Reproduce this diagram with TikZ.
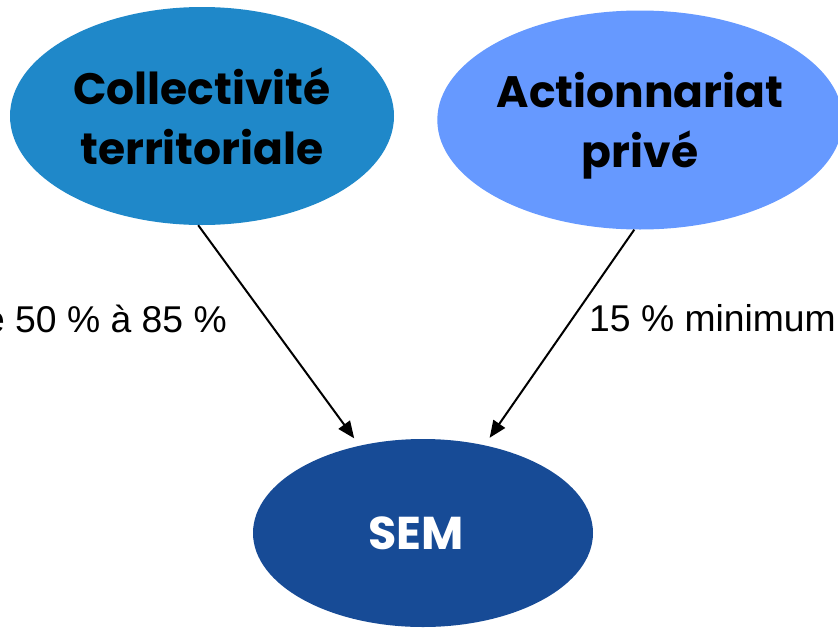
\documentclass[tikz,border=0pt]{standalone}
\usepackage{fontspec}
\setmainfont{Liberation Sans}
\newfontfamily\popp{Poppins}
\usetikzlibrary{arrows.meta,shapes.geometric}
\definecolor{cteal}{RGB}{31,136,201}
\definecolor{clight}{RGB}{102,153,255}
\definecolor{cdark}{RGB}{23,75,150}
\tikzset{
  blob/.style={ellipse, inner sep=0pt, align=center, text depth=0pt, font=\popp\bfseries\fontsize{44}{60}\selectfont, text=black},
  arr/.style={draw=black, line width=2pt, -{Triangle[length=17pt,width=14pt]}, shorten >=9pt},
  lbl/.style={font=\fontsize{37.3}{40}\selectfont, inner sep=0pt, text=black}
}
\begin{document}
\begin{tikzpicture}[x=1pt,y=-1pt]
\useasboundingbox (0,0) rectangle (838,627);
\clip (0,0) rectangle (838,627);
\node[blob, fill=cteal, minimum width=384pt, minimum height=218pt] (ct) at (202,116) {Collectivité\\territoriale};
\node[blob, fill=clight, minimum width=385pt, minimum height=219pt] (ap) at (640,120) {Actionnariat\\privé};
\node[blob, fill=cdark, minimum width=340pt, minimum height=188pt, text=white, font=\popp\bfseries\fontsize{46}{50}\selectfont] (sem) at (423,533) {SEM\hspace*{14pt}};
\draw[arr] (ct.-92) -- (sem.126);
\draw[arr] (ap.-93) -- (sem.55);
\node[lbl, anchor=base east] (l1) at (227,332) {De 50 \% à 85 \%};
\node[lbl, anchor=base west] (l2) at (589,331) {15 \% minimum};
\end{tikzpicture}
\end{document}
